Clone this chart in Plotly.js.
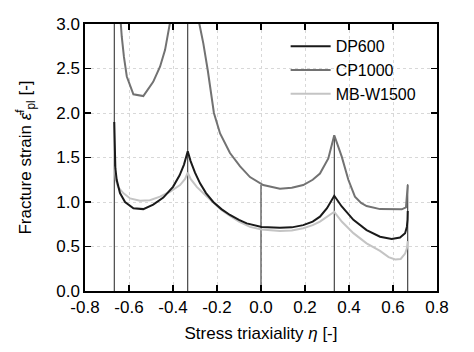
<!DOCTYPE html>
<html>
<head>
<meta charset="utf-8">
<script src="https://cdn.plot.ly/plotly-3.0.1.min.js"></script>
<style>html,body{margin:0;padding:0;background:#fff;}#chart{width:474px;height:352px;}</style>
</head>
<body>
<div id="chart"></div>
<script>
// ---- data ----
const dp600X = [-0.667,-0.665,-0.662,-0.656,-0.641,-0.618,-0.58,-0.535,-0.49,-0.444,-0.40,-0.37,-0.35,-0.333,
  -0.32,-0.30,-0.277,-0.25,-0.217,-0.18,-0.141,-0.10,-0.065,0.003,0.086,0.14,0.192,0.235,0.268,0.30,0.333,
  0.367,0.42,0.48,0.541,0.594,0.632,0.655,0.663,0.666,0.667];
const dp600Y = [1.90,1.55,1.38,1.25,1.10,1.00,0.93,0.92,0.97,1.05,1.17,1.30,1.42,1.57,
  1.46,1.33,1.21,1.10,1.00,0.92,0.854,0.80,0.76,0.72,0.71,0.715,0.74,0.78,0.835,0.93,1.07,
  0.95,0.80,0.685,0.61,0.585,0.60,0.65,0.72,0.80,0.90];

const cp1000X = [-0.655,-0.638,-0.633,-0.623,-0.610,-0.580,-0.535,-0.490,-0.459,-0.436,-0.414,-0.405,null,
  -0.30,-0.28,-0.262,-0.242,-0.214,-0.186,-0.141,-0.095,-0.05,0.01,0.086,0.14,0.192,0.235,0.268,0.306,0.333,
  0.367,0.397,0.427,0.455,0.48,0.541,0.60,0.64,0.659,0.667];
const cp1000Y = [3.6,2.98,2.86,2.63,2.41,2.21,2.19,2.35,2.52,2.71,3.01,3.3,null,
  3.5,3.0,2.78,2.48,2.0,1.77,1.55,1.40,1.28,1.19,1.15,1.16,1.19,1.25,1.32,1.49,1.75,
  1.51,1.25,1.06,0.99,0.955,0.92,0.915,0.918,0.94,1.19];

const mbX = [-0.665,-0.66,-0.65,-0.626,-0.595,-0.55,-0.505,-0.459,-0.414,-0.368,-0.345,-0.333,
  -0.32,-0.292,-0.25,-0.217,-0.18,-0.141,-0.10,-0.05,0.003,0.086,0.14,0.192,0.235,0.268,0.30,0.333,
  0.367,0.42,0.48,0.541,0.58,0.61,0.635,0.655,0.663,0.667];
const mbY = [1.40,1.25,1.17,1.10,1.04,1.015,1.02,1.06,1.115,1.19,1.26,1.33,
  1.26,1.17,1.07,0.99,0.91,0.845,0.78,0.72,0.69,0.674,0.68,0.705,0.74,0.78,0.83,0.89,
  0.78,0.65,0.535,0.45,0.38,0.355,0.36,0.42,0.48,0.56];

const vlineX = [-0.6667,-0.3333,0,0.3333,0.6667];
const vlineTop = [3,3,1.19,1.75,1.2];

const seriesNames = ['DP600','CP1000','MB-W1500'];
const xTicks = [-0.8,-0.6,-0.4,-0.2,0,0.2,0.4,0.6,0.8];
const xTickText = ['-0.8','-0.6','-0.4','-0.2','0.0','0.2','0.4','0.6','0.8'];
const yTicks = [0,0.5,1,1.5,2,2.5,3];
const yTickText = ['0.0','0.5','1.0','1.5','2.0','2.5','3.0'];

// ---- build ----
const vx = [], vy = [];
vlineX.forEach((x,i)=>{ vx.push(x,x,null); vy.push(0,vlineTop[i],null); });

const FONT = 'Liberation Sans, Arial, sans-serif';
const traces = [
  {x:vx, y:vy, mode:'lines', line:{color:'#474747', width:1.2}, showlegend:false, hoverinfo:'skip'},
  {x:mbX, y:mbY, mode:'lines', name:seriesNames[2], line:{color:'#c4c4c4', width:2}},
  {x:cp1000X, y:cp1000Y, mode:'lines', name:seriesNames[1], line:{color:'#727272', width:2}},
  {x:dp600X, y:dp600Y, mode:'lines', name:seriesNames[0], line:{color:'#1a1a1a', width:2}}
];

const axisCommon = {
  showline:true, linecolor:'#000', linewidth:1.6, mirror:'ticks',
  ticks:'inside', ticklen:6, tickwidth:1.4, tickcolor:'#000',
  showgrid:true, gridcolor:'#d8d8d8', gridwidth:1, griddash:'dot',
  zeroline:false, tickfont:{family:FONT, size:17, color:'#000'}
};

const layout = {
  width:474, height:352,
  margin:{l:85, r:37, t:24, b:61},
  paper_bgcolor:'#fff', plot_bgcolor:'#fff',
  font:{family:FONT, size:17, color:'#000'},
  xaxis:Object.assign({}, axisCommon, {
    range:[-0.8,0.8], tickvals:xTicks, ticktext:xTickText,
    title:{text:'Stress triaxiality <i>η</i> [-]', font:{family:FONT, size:17, color:'#000'}, standoff:11}
  }),
  yaxis:Object.assign({}, axisCommon, {
    range:[0,3], tickvals:yTicks, ticktext:yTickText,
    title:{text:'Fracture strain <i>ε̄</i><sup>f</sup><sub>pl</sub> [-]', font:{family:FONT, size:17, color:'#000'}, standoff:20}
  }),
  legend:{x:0.57, y:0.98, xanchor:'left', yanchor:'top', bgcolor:'rgba(0,0,0,0)',
    traceorder:'reversed', font:{family:FONT, size:16, color:'#000'}, itemwidth:40},
  showlegend:true
};

Plotly.newPlot('chart', traces, layout, {displayModeBar:false, staticPlot:true});
</script>
</body>
</html>
